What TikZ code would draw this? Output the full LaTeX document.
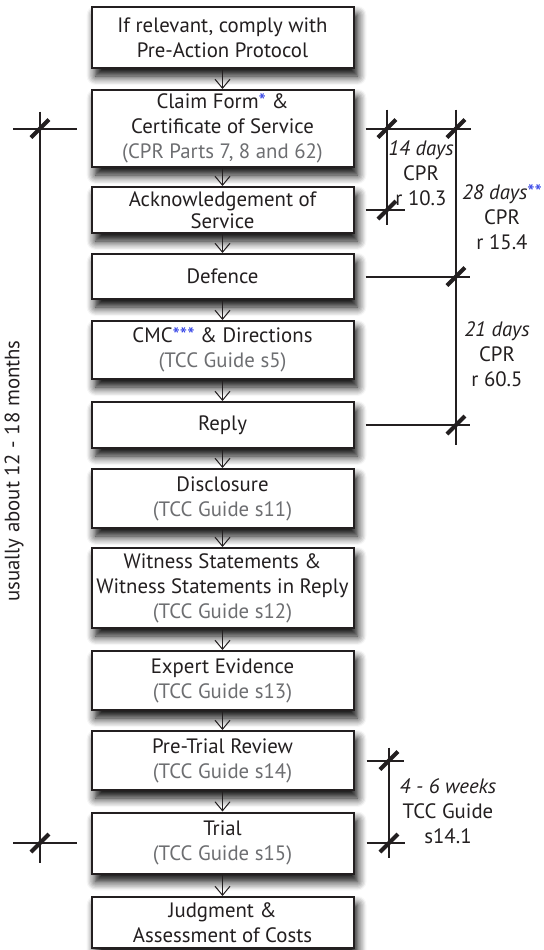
\documentclass[tikz,border=0pt]{standalone}
\usepackage{fontspec}
\setmainfont{PT Sans}
\usetikzlibrary{arrows.meta,shadows.blur}
\definecolor{ink}{HTML}{231F20}
\definecolor{note}{HTML}{6D6E71}
\definecolor{star}{HTML}{2B3BE6}
\newcommand{\srcnote}[1]{\textcolor{note}{#1}}
\newcommand{\stars}[1]{\textcolor{star}{#1}}
\tikzset{
  stage/.style={draw=ink,line width=1pt,fill=white,minimum width=131pt,inner sep=0pt,align=center,
    text=ink,font=\fontsize{10.4}{12.5}\selectfont,
    blur shadow={shadow xshift=2pt,shadow yshift=-4pt,shadow blur radius=4.5pt,shadow blur steps=8,shadow opacity=100}},
  flow/.style={draw=ink,line width=0.5pt,-{Straight Barb[width=7.5pt,length=4.5pt]}},
  dim/.style={draw=ink,line width=1pt},
  tickbar/.style={draw=ink,line width=2pt},
  dimtext/.style={align=center,text=ink,inner sep=0pt,font=\fontsize{10.4}{12.5}\selectfont}
}
\newcommand{\tickat}[1]{\draw[tickbar,shift={(#1)}] (-9,9) -- (9,-9);}
\begin{document}
\begin{tikzpicture}[x=0.5pt,y=-0.5pt,line cap=butt]
\useasboundingbox (0,0) rectangle (544,950);
% stages
\node[stage,minimum height=30.5pt] (pap) at (222.5,37.5) {If relevant, comply with\\Pre-Action Protocol};
\node[stage,minimum height=38.5pt] (claim) at (222.5,128.5) {Claim Form\stars{*} \&\\Certificate of Service\\\srcnote{(CPR Parts 7, 8 and 62)}};
\node[stage,minimum height=23pt,font=\fontsize{10.4}{11}\selectfont] (ack) at (222.5,210) {Acknowledgement of\\Service};
\node[stage,minimum height=22.5pt] (def) at (222.5,276.5) {Defence};
\node[stage,minimum height=29pt] (cmc) at (222.5,350) {CMC\stars{***} \& Directions\\\srcnote{(TCC Guide s5)}};
\node[stage,minimum height=23pt] (reply) at (222.5,425) {Reply};
\node[stage,minimum height=29.5pt] (disc) at (222.5,498.5) {Disclosure\\\srcnote{(TCC Guide s11)}};
\node[stage,minimum height=40pt] (wit) at (222.5,588) {Witness Statements \&\\Witness Statements in Reply\\\srcnote{(TCC Guide s12)}};
\node[stage,minimum height=29.5pt] (exp) at (222.5,680.5) {Expert Evidence\\\srcnote{(TCC Guide s13)}};
\node[stage,minimum height=29.5pt] (ptr) at (222.5,760.5) {Pre-Trial Review\\\srcnote{(TCC Guide s14)}};
\node[stage,minimum height=30.5pt] (trial) at (222.5,843) {Trial\\\srcnote{(TCC Guide s15)}};
\node[stage,minimum height=25.5pt] (judg) at (222.5,922.5) {Judgment \&\\Assessment of Costs};
\foreach \a/\b in {pap/claim,claim/ack,ack/def,def/cmc,cmc/reply,reply/disc,disc/wit,wit/exp,exp/ptr,ptr/trial,trial/judg}
  \draw[flow] (\a) -- (\b);
% dimension lines
\coordinate (lft) at (40,0);
\coordinate (r14) at (387,0);
\coordinate (r28) at (456,0);
\coordinate (r46) at (389,0);
\draw[dim] ([xshift=-7pt]claim.west) -- ([xshift=-13.5pt]claim.west -| lft);
\draw[dim] ([xshift=-7pt]trial.west) -- ([xshift=-13.5pt]trial.west -| lft);
\draw[dim] ([yshift=8.5pt]claim.west -| lft) -- ([yshift=-10pt]trial.west -| lft);
\draw[dim] ([xshift=5.5pt]claim.east) -- ([xshift=7.5pt]claim.east -| r28);
\draw[dim] ([xshift=5.5pt]ack.east) -- ([xshift=9pt]ack.east -| r14);
\draw[dim] ([xshift=5.5pt]def.east) -- ([xshift=7pt]def.east -| r28);
\draw[dim] ([xshift=5.5pt]reply.east) -- ([xshift=7pt]reply.east -| r28);
\draw[dim] ([yshift=9.5pt]claim.east -| r14) -- ([yshift=-7.5pt]ack.east -| r14);
\draw[dim] ([yshift=9.5pt]claim.east -| r28) -- ([yshift=-10pt]reply.east -| r28);
\draw[dim] ([xshift=6pt]ptr.east) -- ([xshift=7.5pt]ptr.east -| r46);
\draw[dim] ([xshift=6pt]trial.east) -- ([xshift=8pt]trial.east -| r46);
\draw[dim] ([yshift=6.5pt]ptr.east -| r46) -- ([yshift=-7.5pt]trial.east -| r46);
\tickat{claim.west -| lft}
\tickat{trial.west -| lft}
\tickat{claim.east -| r14}
\tickat{claim.east -| r28}
\tickat{ack.east -| r14}
\tickat{def.east -| r28}
\tickat{reply.east -| r28}
\tickat{ptr.east -| r46}
\tickat{trial.east -| r46}
% labels
\node[dimtext] (l14) at (421,173) {\textit{14 days}\\CPR\\r 10.3};
\node[dimtext] (l28) at (502,217) {\textit{28 days}\stars{**}\\CPR\\r 15.4};
\node[dimtext] (l21) at (497,354) {\textit{21 days}\\CPR\\r 60.5};
\node[dimtext] (l46) at (448,811) {\textit{4 - 6 weeks}\\TCC Guide\\s14.1};
\node[dimtext,rotate=90] (lusual) at (14,471) {usually about 12 - 18 months};
\end{tikzpicture}
\end{document}
